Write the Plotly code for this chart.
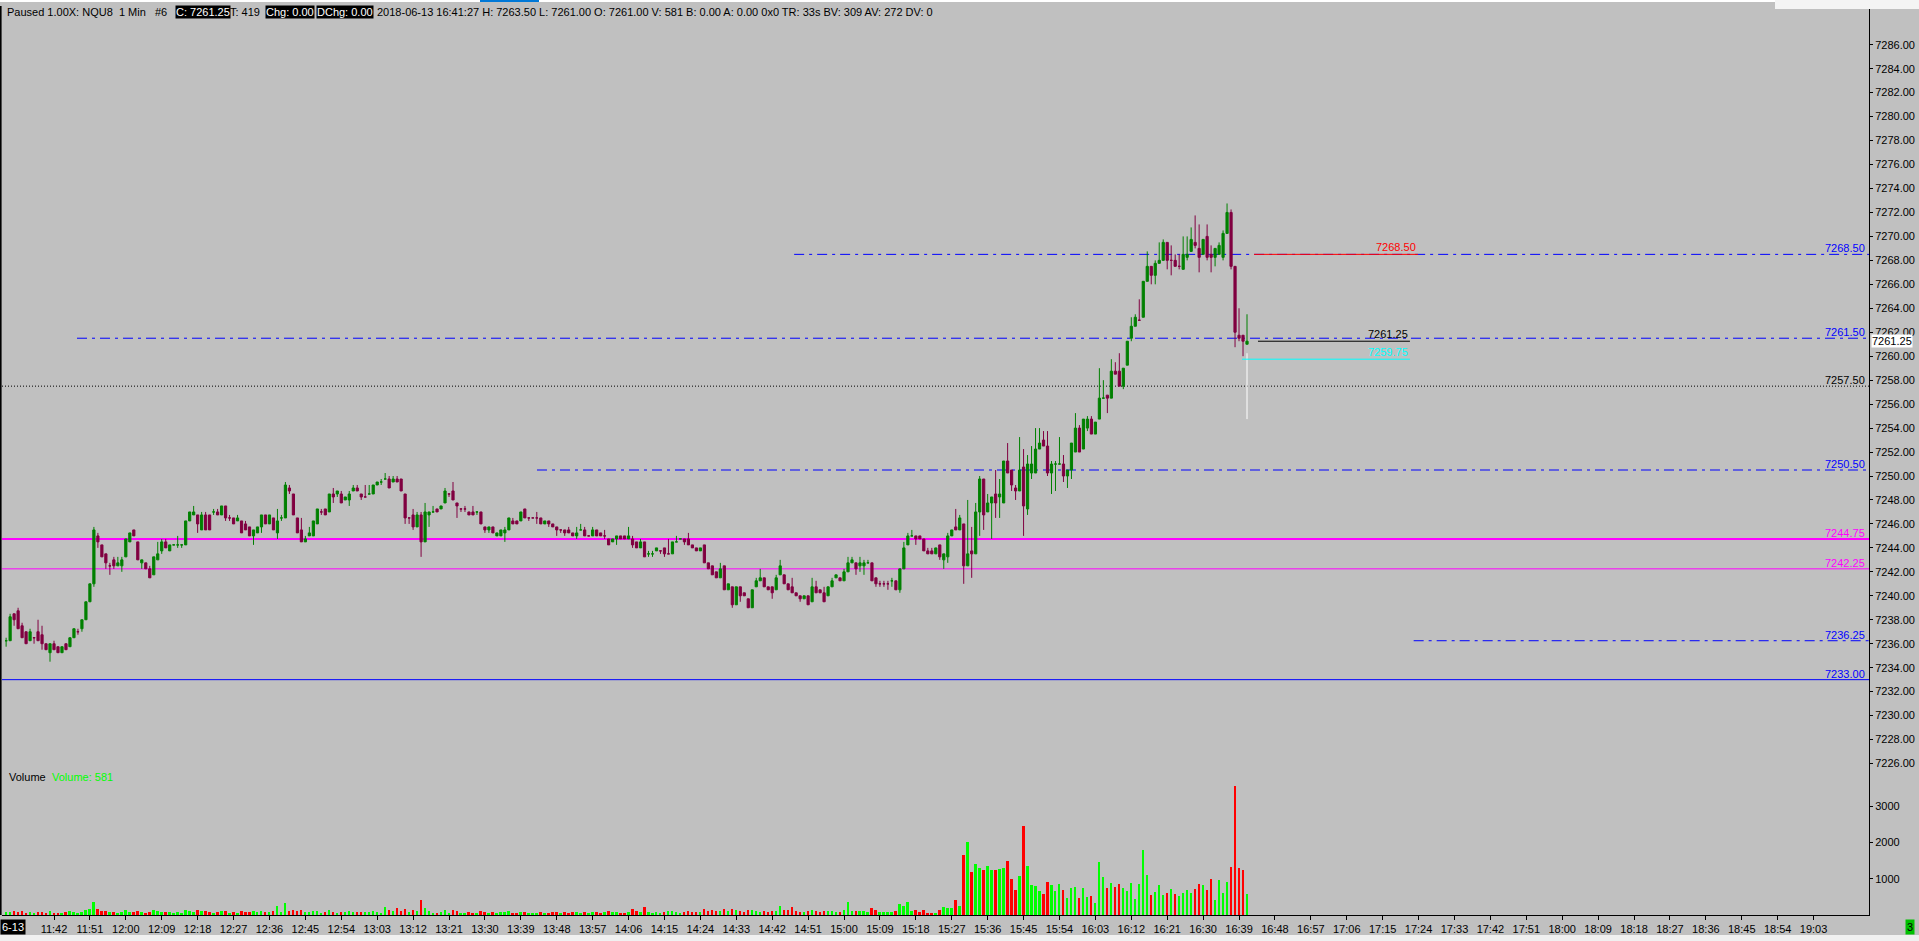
import plotly.graph_objects as go
import pandas as pd

# ---------------- data ----------------
FIRST_BAR = "2018-06-13 11:30"   # 1-minute bars

OPEN = [7236.25,7236.25,7238.5,7238.75,7237.5,7237.0,7236.25,7236.5,7237.0,7236.75,
        7236.0,7235.25,7236.0,7235.75,7235.25,7236.0,7235.75,7236.5,7237.0,7237.25,
        7238.0,7239.5,7241.0,7245.0,7244.25,7243.5,7242.5,7243.0,7242.5,7242.5,
        7243.25,7244.5,7245.5,7244.5,7242.75,7242.75,7242.25,7241.75,7243.0,7243.75,
        7244.5,7243.75,7244.25,7244.25,7244.25,7244.25,7246.25,7246.75,7246.75,7245.5,
        7246.75,7246.75,7247.0,7247.0,7246.75,7247.5,7246.5,7246.5,7246.25,7246.25,
        7246.0,7245.75,7245.0,7245.25,7245.75,7246.75,7246.0,7246.5,7245.25,7246.5,
        7246.5,7249.0,7248.5,7246.5,7245.5,7244.5,7245.0,7245.0,7246.0,7247.0,
        7247.25,7247.0,7248.5,7248.5,7248.5,7248.0,7248.0,7248.75,7249.0,7248.5,
        7248.25,7248.5,7248.5,7249.25,7249.5,7249.75,7249.75,7249.5,7249.75,7249.75,
        7248.5,7246.5,7246.75,7245.75,7246.75,7244.5,7246.75,7247.0,7247.25,7247.25,
        7247.75,7248.5,7248.75,7247.75,7247.25,7247.25,7247.0,7247.0,7247.0,7247.0,
        7245.75,7245.5,7245.75,7245.0,7245.0,7245.25,7245.5,7246.25,7246.25,7246.25,
        7247.25,7246.5,7246.5,7246.5,7246.5,7246.0,7246.25,7246.0,7245.75,7245.5,
        7245.5,7245.5,7245.25,7245.0,7245.5,7245.5,7245.0,7245.0,7245.5,7245.25,
        7245.0,7244.75,7244.5,7244.75,7245.0,7245.0,7244.75,7244.75,7244.5,7244.0,
        7244.5,7243.5,7243.5,7243.75,7243.75,7244.0,7243.5,7243.5,7244.5,7244.75,
        7244.75,7244.75,7244.25,7244.0,7243.75,7244.25,7242.75,7242.5,7242.0,7241.5,
        7242.5,7240.5,7240.75,7239.25,7240.75,7240.25,7239.75,7239.0,7240.75,7241.25,
        7241.5,7240.75,7240.75,7240.5,7241.75,7241.75,7241.0,7240.75,7240.25,7240.0,
        7239.75,7240.0,7239.5,7240.75,7240.5,7240.25,7240.0,7240.75,7241.5,7241.5,
        7241.25,7242.0,7242.75,7242.75,7242.5,7242.5,7242.75,7242.75,7241.5,7241.0,
        7241.0,7241.0,7241.25,7241.25,7240.5,7242.25,7244.25,7245.0,7245.0,7245.0,
        7244.75,7243.75,7243.75,7243.5,7244.25,7243.0,7243.25,7245.0,7245.75,7245.5,
        7246.0,7242.5,7243.75,7243.5,7247.0,7249.75,7247.0,7247.75,7248.5,7248.25,
        7247.75,7251.25,7250.5,7249.0,7248.75,7250.75,7247.25,7250.25,7250.25,7252.25,
        7253.0,7252.5,7250.25,7251.0,7251.0,7251.0,7250.0,7250.5,7252.0,7254.0,
        7252.25,7254.0,7254.75,7253.5,7254.75,7256.5,7256.75,7256.5,7258.75,7258.75,
        7257.5,7259.25,7261.5,7262.5,7263.0,7263.25,7266.25,7267.5,7266.75,7267.75,
        7268.0,7269.5,7268.0,7268.0,7267.5,7267.25,7268.25,7268.75,7269.5,7269.0,
        7268.5,7270.0,7268.5,7268.25,7268.5,7268.25,7270.25,7272.0,7267.5,7261.75,
        7261.75,7261.0]

HIGH = [7236.5,7238.5,7238.5,7239.0,7237.75,7237.0,7237.25,7236.5,7238.0,7237.5,
        7236.0,7236.0,7236.25,7235.75,7235.75,7236.0,7236.5,7237.25,7237.25,7238.0,
        7239.5,7241.0,7245.75,7245.25,7244.25,7243.5,7242.75,7243.25,7243.25,7243.25,
        7244.75,7245.25,7245.5,7244.5,7243.0,7242.75,7242.5,7243.25,7244.5,7244.75,
        7244.75,7244.25,7244.25,7245.0,7244.25,7246.25,7247.0,7247.5,7246.75,7247.0,
        7247.0,7246.75,7247.25,7247.25,7247.5,7247.5,7246.75,7246.5,7246.75,7246.25,
        7246.25,7245.75,7245.5,7245.75,7246.75,7246.75,7246.75,7246.5,7247.25,7246.75,
        7249.5,7249.25,7248.5,7246.5,7246.5,7245.0,7245.75,7246.25,7247.25,7247.25,
        7247.25,7248.5,7249.0,7248.75,7248.75,7248.25,7248.75,7249.25,7249.25,7248.5,
        7249.25,7249.25,7249.25,7249.5,7249.75,7250.25,7250.0,7250.0,7250.0,7249.75,
        7248.5,7246.5,7247.25,7247.0,7247.0,7247.75,7247.0,7247.5,7247.25,7247.5,
        7249.0,7248.5,7249.5,7247.75,7247.25,7247.5,7247.0,7247.5,7247.0,7247.0,
        7245.75,7245.75,7245.75,7245.25,7245.5,7245.75,7246.5,7246.5,7246.25,7247.0,
        7247.25,7246.5,7246.5,7247.0,7246.5,7246.25,7246.25,7246.0,7245.75,7245.5,
        7245.5,7245.75,7245.25,7245.75,7246.0,7245.75,7245.0,7245.75,7245.5,7245.25,
        7245.5,7244.75,7244.75,7245.0,7245.0,7245.0,7245.75,7245.0,7244.5,7244.75,
        7244.5,7243.75,7243.75,7244.0,7243.75,7244.0,7244.75,7244.5,7245.0,7244.75,
        7244.75,7245.25,7244.25,7244.0,7244.0,7244.25,7242.75,7242.5,7242.0,7242.75,
        7242.5,7241.0,7240.75,7240.75,7240.75,7240.25,7239.75,7240.5,7241.5,7242.25,
        7241.5,7240.75,7240.75,7241.75,7243.0,7241.75,7241.0,7241.5,7240.25,7240.0,
        7240.0,7240.0,7241.5,7241.25,7240.5,7240.75,7240.75,7241.5,7241.75,7241.5,
        7242.25,7243.25,7243.25,7242.75,7243.25,7243.0,7243.0,7242.75,7241.5,7241.25,
        7241.25,7241.25,7241.5,7241.25,7242.25,7244.5,7245.25,7245.5,7245.0,7245.0,
        7244.75,7244.0,7244.0,7244.0,7244.25,7243.5,7245.25,7245.5,7247.25,7246.75,
        7246.0,7248.0,7245.75,7247.75,7250.0,7249.75,7248.5,7248.25,7250.5,7249.75,
        7251.25,7252.75,7250.5,7249.25,7253.25,7252.25,7251.75,7252.5,7254.0,7254.0,
        7253.75,7253.75,7251.25,7251.25,7253.25,7251.75,7250.5,7252.75,7255.25,7254.25,
        7254.75,7255.0,7255.0,7254.5,7259.0,7258.0,7256.75,7259.75,7259.5,7260.25,
        7259.0,7261.25,7263.25,7263.5,7264.75,7266.25,7268.75,7267.5,7268.0,7269.5,
        7269.75,7269.5,7269.25,7268.5,7268.5,7270.0,7270.0,7270.75,7271.75,7271.0,
        7269.75,7271.0,7269.25,7269.0,7269.5,7270.5,7272.75,7272.25,7267.5,7264.0,
        7261.75,7263.5]

LOW = [7235.75,7236.25,7237.5,7237.25,7236.5,7236.0,7236.25,7236.0,7236.25,7235.5,
       7235.5,7234.5,7235.5,7235.25,7235.25,7235.5,7235.75,7236.5,7236.75,7237.0,
       7238.0,7239.5,7240.75,7244.0,7243.25,7242.25,7241.75,7242.25,7242.5,7242.0,
       7243.25,7244.5,7245.0,7243.0,7242.25,7242.25,7241.5,7241.75,7243.0,7243.5,
       7244.0,7243.75,7244.25,7244.0,7244.0,7244.25,7246.25,7246.75,7245.25,7245.5,
       7245.5,7245.5,7246.75,7246.75,7246.75,7246.25,7246.25,7246.0,7246.25,7245.25,
       7245.5,7245.0,7244.25,7245.25,7245.25,7246.0,7246.0,7245.5,7244.75,7246.25,
       7246.5,7248.5,7246.75,7245.25,7244.5,7244.5,7245.0,7245.0,7246.0,7246.75,
       7246.75,7247.0,7247.75,7248.25,7247.75,7248.0,7247.5,7248.75,7248.75,7248.0,
       7248.25,7248.5,7248.5,7249.25,7249.25,7249.75,7249.0,7249.5,7249.5,7248.75,
       7246.0,7246.0,7245.5,7245.75,7243.25,7244.5,7245.75,7247.0,7247.0,7247.25,
       7247.75,7248.25,7248.0,7246.5,7247.0,7247.0,7246.75,7246.75,7246.75,7246.0,
       7245.25,7245.25,7245.25,7245.0,7245.0,7244.5,7245.5,7246.0,7246.0,7246.25,
       7246.5,7246.25,7246.5,7246.0,7246.0,7246.0,7245.75,7245.75,7245.0,7245.25,
       7245.0,7245.25,7245.0,7244.75,7245.5,7245.0,7245.0,7245.0,7245.0,7245.0,
       7244.75,7244.25,7244.5,7244.25,7244.75,7244.75,7244.75,7244.0,7244.0,7244.0,
       7243.25,7243.25,7243.25,7243.75,7243.5,7243.25,7243.5,7243.5,7244.5,7244.75,
       7244.25,7244.25,7244.0,7243.75,7243.75,7242.75,7242.25,7241.75,7241.5,7241.5,
       7240.5,7240.5,7239.0,7239.25,7239.5,7240.0,7239.0,7239.0,7240.75,7241.25,
       7240.75,7240.5,7239.75,7240.5,7241.75,7241.0,7240.5,7240.25,7240.0,7239.5,
       7239.75,7239.25,7239.5,7240.25,7240.25,7239.5,7240.0,7240.75,7241.5,7241.25,
       7241.25,7242.0,7242.75,7241.75,7242.0,7241.75,7242.75,7241.25,7240.75,7240.75,
       7240.75,7240.5,7240.75,7240.5,7240.25,7242.25,7244.25,7245.0,7244.25,7244.75,
       7243.75,7243.5,7243.5,7243.5,7243.0,7242.25,7242.75,7245.0,7245.5,7245.5,
       7241.0,7242.5,7241.5,7243.5,7245.0,7245.5,7247.0,7244.75,7246.5,7246.5,
       7247.75,7250.25,7248.75,7248.0,7248.75,7245.0,7246.75,7249.75,7250.25,7252.25,
       7252.5,7250.0,7248.5,7248.75,7251.0,7249.5,7249.0,7249.75,7252.0,7252.0,
       7252.25,7253.75,7253.5,7253.5,7254.75,7256.5,7255.25,7256.5,7258.5,7257.5,
       7257.25,7259.25,7261.25,7262.5,7263.0,7263.25,7266.25,7266.0,7266.0,7267.75,
       7268.0,7267.25,7266.75,7267.5,7267.25,7267.25,7268.0,7268.75,7269.0,7267.0,
       7268.5,7268.0,7267.0,7267.5,7268.5,7268.0,7270.25,7267.25,7260.75,7261.25,
       7260.0,7261.0]

CLOSE = [7236.25,7238.25,7238.0,7237.25,7236.5,7236.0,7237.0,7236.5,7236.25,7236.0,
         7235.5,7236.0,7235.5,7235.25,7235.75,7235.5,7236.5,7237.25,7237.0,7238.0,
         7239.5,7241.0,7245.5,7244.5,7243.25,7242.75,7242.5,7242.5,7242.75,7243.0,
         7244.75,7245.25,7245.0,7243.0,7243.0,7242.25,7241.5,7243.25,7243.5,7244.5,
         7244.0,7244.25,7244.25,7244.25,7244.25,7246.25,7247.0,7247.0,7246.0,7246.75,
         7245.5,7245.5,7247.0,7246.75,7247.5,7246.5,7246.5,7246.0,7246.5,7245.25,
         7245.5,7245.0,7245.5,7245.75,7246.75,7246.0,7246.75,7245.5,7246.25,7246.5,
         7249.25,7248.75,7246.75,7245.25,7244.5,7244.75,7245.25,7246.25,7247.25,7247.0,
         7246.75,7248.5,7248.25,7248.75,7247.75,7248.25,7248.5,7249.0,7248.75,7248.25,
         7248.25,7248.5,7249.25,7249.5,7249.5,7249.75,7249.0,7249.75,7249.5,7248.75,
         7246.5,7246.5,7245.75,7246.75,7244.5,7247.0,7247.0,7247.0,7247.0,7247.5,
         7248.75,7248.5,7248.0,7247.5,7247.25,7247.25,7246.75,7246.75,7247.0,7246.0,
         7245.5,7245.75,7245.25,7245.25,7245.5,7245.5,7246.5,7246.0,7246.0,7247.0,
         7246.5,7246.5,7246.5,7246.5,7246.0,7246.25,7246.0,7245.75,7245.5,7245.5,
         7245.25,7245.25,7245.0,7245.25,7245.5,7245.0,7245.0,7245.5,7245.0,7245.0,
         7245.0,7244.25,7244.75,7245.0,7244.75,7244.75,7245.0,7244.25,7244.0,7244.5,
         7243.25,7243.5,7243.5,7244.0,7243.75,7243.5,7243.5,7244.5,7244.5,7244.75,
         7244.5,7244.25,7244.0,7243.75,7244.0,7242.75,7242.25,7241.75,7241.5,7242.25,
         7240.5,7241.0,7239.25,7240.75,7240.0,7240.0,7239.0,7240.5,7241.25,7241.5,
         7240.75,7240.5,7240.25,7241.5,7242.5,7241.0,7240.5,7240.25,7240.0,7239.75,
         7240.0,7239.25,7240.75,7240.25,7240.25,7239.5,7240.75,7241.25,7241.75,7241.25,
         7242.0,7242.75,7243.0,7242.25,7242.75,7242.75,7242.75,7241.25,7241.0,7241.0,
         7241.0,7241.0,7241.25,7240.5,7242.25,7244.0,7245.0,7245.0,7244.75,7244.75,
         7243.75,7243.5,7243.5,7244.0,7243.25,7243.5,7245.0,7245.5,7245.5,7246.5,
         7242.5,7243.5,7243.5,7247.0,7249.75,7246.75,7247.75,7248.25,7247.75,7248.5,
         7251.25,7250.25,7249.25,7248.75,7250.5,7247.5,7251.0,7251.0,7252.25,7252.75,
         7252.5,7250.25,7251.0,7251.0,7251.0,7250.0,7250.5,7252.75,7254.0,7252.0,
         7254.75,7254.75,7253.5,7254.5,7256.5,7256.5,7256.5,7258.75,7258.5,7257.5,
         7259.0,7261.25,7262.5,7263.25,7263.0,7266.25,7267.5,7266.75,7267.75,7268.0,
         7269.5,7268.0,7268.0,7267.5,7267.5,7268.5,7268.5,7269.75,7269.25,7268.25,
         7269.75,7268.25,7268.25,7269.0,7269.25,7270.25,7272.0,7267.5,7262.0,7261.5,
         7261.25,7261.25]

VOLUME = [80,90,110,70,120,60,90,60,80,70,
          60,110,50,60,60,70,100,80,60,70,
          130,160,350,160,110,110,70,80,60,70,
          140,90,80,120,70,60,90,130,110,80,
          70,80,50,90,50,150,110,90,130,110,
          100,80,60,70,110,100,60,70,60,100,
          80,90,110,80,120,90,80,110,250,70,
          330,110,140,120,130,70,80,110,120,60,
          70,140,90,60,90,70,100,90,80,70,
          80,70,120,80,60,220,130,110,180,110,
          170,90,140,110,420,200,110,60,60,80,
          150,60,130,110,60,50,70,60,60,110,
          90,60,80,60,80,70,100,60,60,90,
          90,60,50,60,80,60,60,70,90,60,
          70,60,80,70,60,80,50,70,80,60,
          70,100,80,90,60,60,70,160,110,90,
          220,70,60,80,60,90,110,120,70,50,
          80,110,70,90,70,160,120,140,110,100,
          170,100,170,130,120,80,140,130,100,90,
          120,80,100,120,240,130,150,210,100,90,
          70,110,140,100,80,110,120,110,70,80,
          150,350,110,120,100,110,70,200,130,80,
          70,90,80,110,303,248,358,110,138,83,
          138,55,55,55,138,220,193,193,413,248,
          1653,2011,1185,1405,1295,1240,1350,1240,1240,1267,
          1295,1488,992,689,1074,2452,1350,826,799,661,
          579,909,826,661,854,689,468,744,771,468,
          744,496,523,331,1460,1048,744,882,771,854,
          744,661,882,441,854,1791,1102,551,634,826,
          551,606,716,579,523,606,689,606,716,854,
          826,689,992,413,964,606,909,1322,3554,1295,
          1240,581]

PRICE_TICKS = [7226,7228,7230,7232,7234,7236,7238,7240,7242,7244,7246,7248,7250,
               7252,7254,7256,7258,7260,7262,7264,7266,7268,7270,7272,7274,7276,
               7278,7280,7282,7284,7286]
VOL_TICKS = [1000, 2000, 3000]
TIME_TICKS = ["11:42","11:51","12:00","12:09","12:18","12:27","12:36","12:45","12:54",
              "13:03","13:12","13:21","13:30","13:39","13:48","13:57","14:06","14:15",
              "14:24","14:33","14:42","14:51","15:00","15:09","15:18","15:27","15:36",
              "15:45","15:54","16:03","16:12","16:21","16:30","16:39","16:48","16:57",
              "17:06","17:15","17:24","17:33","17:42","17:51","18:00","18:09","18:18",
              "18:27","18:36","18:45","18:54","19:03"]

# horizontal levels
LEVELS = [7268.50, 7261.50, 7257.50, 7250.50, 7244.75, 7242.25, 7236.25, 7233.00]
LEVEL_FROM = ["14:47:30", "11:47:46", None, "13:43:03", None, None, "17:22:46", None]
# short marker lines near the last bar
MARKS = [7268.50, 7261.25, 7259.75]
MARK_FROM = ["16:42:45", "16:43:45", "16:39:45"]
MARK_TO = ["17:23:52", "17:21:50", "17:21:50"]
LAST_PRICE = 7261.25
LAST_RANGE = [7260.25, 7254.75]
HEADER_VOLUME = 581

# ---------------- styles ----------------
BG = "#c0c0c0"
UP, DN = "#008000", "#800040"
VUP, VDN = "#00ff00", "#ff0000"
FONT = "Liberation Sans, Arial, sans-serif"
FS = 11
LEVEL_STYLE = [("#0000ff", 1, "10px,5px,3px,5px"), ("#0000ff", 1, "10px,5px,3px,5px"),
               ("#000000", 1, "1px,2px"), ("#0000ff", 1, "10px,5px,3px,5px"),
               ("#ff00ff", 2, "solid"), ("#ff00ff", 1, "solid"),
               ("#0000ff", 1, "10px,5px,3px,5px"), ("#0000ff", 1, "solid")]
MARK_COLORS = ["#ff0000", "#000000", "#00ffff"]

DAY = "2018-06-13 "
W, H = 1919, 941
PL, PR, PT, PB = 2, 1869, 6, 915          # plot-area box in pixels
PX_PER_MIN = 3.99
X0 = pd.Timestamp(DAY + "11:28:58")
X1 = X0 + pd.Timedelta(minutes=(PR - PL) / PX_PER_MIN)
PANE_SPLIT = 770                           # y pixel between price and volume panes
Y_OF_7250, PX_PER_PT = 476, 11.98
P_TOP = 7250 + (Y_OF_7250 - PT) / PX_PER_PT
P_BOT = 7250 - (PANE_SPLIT - Y_OF_7250) / PX_PER_PT
V_TOP = (PB - PANE_SPLIT) / 0.0363


def fx(px):
    return (px - PL) / (PR - PL)


def fy(py):
    return (PB - py) / (PB - PT)


times = pd.date_range(FIRST_BAR, periods=len(OPEN), freq="1min")
vol_colors = [VUP if c >= o else VDN for o, c in zip(OPEN, CLOSE)]

fig = go.Figure()
fig.add_trace(go.Candlestick(
    x=times, open=OPEN, high=HIGH, low=LOW, close=CLOSE,
    increasing=dict(line=dict(color=UP, width=1), fillcolor=UP),
    decreasing=dict(line=dict(color=DN, width=1), fillcolor=DN),
    whiskerwidth=0, hoverinfo="skip", xaxis="x", yaxis="y"))
fig.add_trace(go.Bar(x=times, y=VOLUME, marker=dict(color=vol_colors, line=dict(width=0)),
                     width=30000, xaxis="x", yaxis="y2", hoverinfo="skip"))
fig.add_trace(go.Scatter(x=[times[-1], times[-1]], y=LAST_RANGE, mode="lines",
                         line=dict(color="#ffffff", width=1), xaxis="x", yaxis="y",
                         hoverinfo="skip"))

shapes = []
annotations = []
for lvl, start, (col, wid, dash) in zip(LEVELS, LEVEL_FROM, LEVEL_STYLE):
    if start is None:
        shapes.append(dict(type="line", xref="paper", yref="y", x0=0, x1=1, y0=lvl, y1=lvl,
                           line=dict(color=col, width=wid, dash=dash), layer="below"))
    else:
        shapes.append(dict(type="line", xref="x", yref="y", x0=DAY + start, x1=X1, y0=lvl, y1=lvl,
                           line=dict(color=col, width=wid, dash=dash), layer="below"))
    annotations.append(dict(xref="paper", yref="y", x=1, y=lvl, xanchor="right", yanchor="bottom",
                            xshift=-2, yshift=-2, text=f"{lvl:.2f}", showarrow=False,
                            font=dict(family=FONT, size=FS, color=col)))

for lvl, a, b, col in zip(MARKS, MARK_FROM, MARK_TO, MARK_COLORS):
    shapes.append(dict(type="line", xref="x", yref="y", x0=DAY + a, x1=DAY + b, y0=lvl, y1=lvl,
                       line=dict(color=col, width=1), layer="above"))
    annotations.append(dict(xref="x", yref="y", x=DAY + b, y=lvl, xanchor="right", yanchor="bottom",
                            yshift=-1, text=f"{lvl:.2f}", showarrow=False,
                            font=dict(family=FONT, size=FS, color=col)))

# window decorations
shapes += [
    dict(type="rect", xref="paper", yref="paper", x0=fx(0), x1=fx(W), y0=fy(935), y1=fy(H),
         fillcolor="#f0f0f0", line=dict(width=0)),
    dict(type="rect", xref="paper", yref="paper", x0=fx(0), x1=fx(W), y0=fy(0), y1=fy(2),
         fillcolor="#ffffff", line=dict(width=0)),
    dict(type="rect", xref="paper", yref="paper", x0=fx(480), x1=fx(539), y0=fy(0), y1=fy(2),
         fillcolor="#0078d7", line=dict(width=0)),
    dict(type="rect", xref="paper", yref="paper", x0=fx(1775), x1=fx(W), y0=fy(0), y1=fy(9),
         fillcolor="#f4f4f4", line=dict(width=0)),
    dict(type="rect", xref="paper", yref="paper", x0=fx(0), x1=fx(1.6), y0=fy(PB), y1=fy(PT),
         fillcolor="#000000", line=dict(width=0)),
]

# last price marker on the axis
annotations.append(dict(xref="paper", yref="y", x=1, y=LAST_PRICE, xanchor="left", yanchor="middle",
                        xshift=2, text=f"{LAST_PRICE:.2f}", showarrow=False, bgcolor="#ffffff",
                        borderpad=0, font=dict(family=FONT, size=FS, color="#000000")))

# header line
hdr_y = fy(12)
header = [
    (6, "Paused 1.00X: NQU8\u00a0\u00a01 Min\u00a0\u00a0\u00a0#6", None, "#000000"),
    (175, f"C: {CLOSE[-1]:.2f}", "#000000", "#ffffff"),
    (229, "T: 419", None, "#000000"),
    (265, "Chg: 0.00", "#000000", "#ffffff"),
    (316, "DChg: 0.00", "#000000", "#ffffff"),
    (376, f"2018-06-13 16:41:27 H: {HIGH[-1]:.2f} L: {LOW[-1]:.2f} O: {OPEN[-1]:.2f} "
          f"V: {HEADER_VOLUME} B: 0.00 A: 0.00 0x0 TR: 33s BV: 309 AV: 272 DV: 0", None, "#000000"),
]
for px, txt, bg, col in header:
    a = dict(xref="paper", yref="paper", x=fx(px), y=hdr_y, xanchor="left", yanchor="middle",
             text=txt, showarrow=False, borderpad=0, font=dict(family=FONT, size=FS, color=col))
    if bg:
        a["bgcolor"] = bg
    annotations.append(a)

annotations += [
    dict(xref="paper", yref="paper", x=fx(7), y=fy(777), xanchor="left", yanchor="middle",
         text="Volume", showarrow=False, font=dict(family=FONT, size=FS, color="#000000")),
    dict(xref="paper", yref="paper", x=fx(50), y=fy(777), xanchor="left", yanchor="middle",
         text=f"Volume: {HEADER_VOLUME}", showarrow=False,
         font=dict(family=FONT, size=FS, color="#00ff00")),
    dict(xref="paper", yref="paper", x=fx(0), y=fy(927), xanchor="left", yanchor="middle",
         text="6-13", showarrow=False, bgcolor="#000000", borderpad=1,
         font=dict(family=FONT, size=FS, color="#ffffff")),
    dict(xref="paper", yref="paper", x=fx(1910), y=fy(927), xanchor="center", yanchor="middle",
         text="3", showarrow=False, bgcolor="#00c000", borderpad=1,
         font=dict(family=FONT, size=FS, color="#000000")),
]

axis_font = dict(family=FONT, size=FS, color="#000000")
fig.update_layout(
    width=W, height=H, margin=dict(l=PL, r=W - PR, t=PT, b=H - PB),
    paper_bgcolor=BG, plot_bgcolor=BG, showlegend=False,
    boxgap=0.45, boxgroupgap=0, bargap=0,
    xaxis=dict(type="date", range=[X0, X1], anchor="y2",
               tickvals=[DAY + t for t in TIME_TICKS], ticktext=TIME_TICKS,
               showgrid=False, zeroline=False, showline=True, linecolor="#000000", linewidth=1,
               ticks="outside", ticklen=4, tickcolor="#000000", tickfont=axis_font,
               rangeslider=dict(visible=False), fixedrange=True),
    yaxis=dict(domain=[fy(PANE_SPLIT), 1], range=[P_BOT, P_TOP], side="right", anchor="x",
               tickvals=PRICE_TICKS, ticktext=[f"{v:.2f}" for v in PRICE_TICKS],
               showgrid=False, zeroline=False, showline=True, linecolor="#000000", linewidth=1,
               ticks="outside", ticklen=3, tickcolor="#000000", tickfont=axis_font),
    yaxis2=dict(domain=[0, fy(PANE_SPLIT)], range=[0, V_TOP], side="right", anchor="x",
                tickvals=VOL_TICKS, ticktext=[str(v) for v in VOL_TICKS],
                showgrid=False, zeroline=False, showline=True, linecolor="#000000", linewidth=1,
                ticks="outside", ticklen=3, tickcolor="#000000", tickfont=axis_font),
    shapes=shapes, annotations=annotations,
)

fig.write_html("out.html", config={"displayModeBar": False},
               post_script="document.body.style.margin='0';document.body.style.overflow='hidden';")
